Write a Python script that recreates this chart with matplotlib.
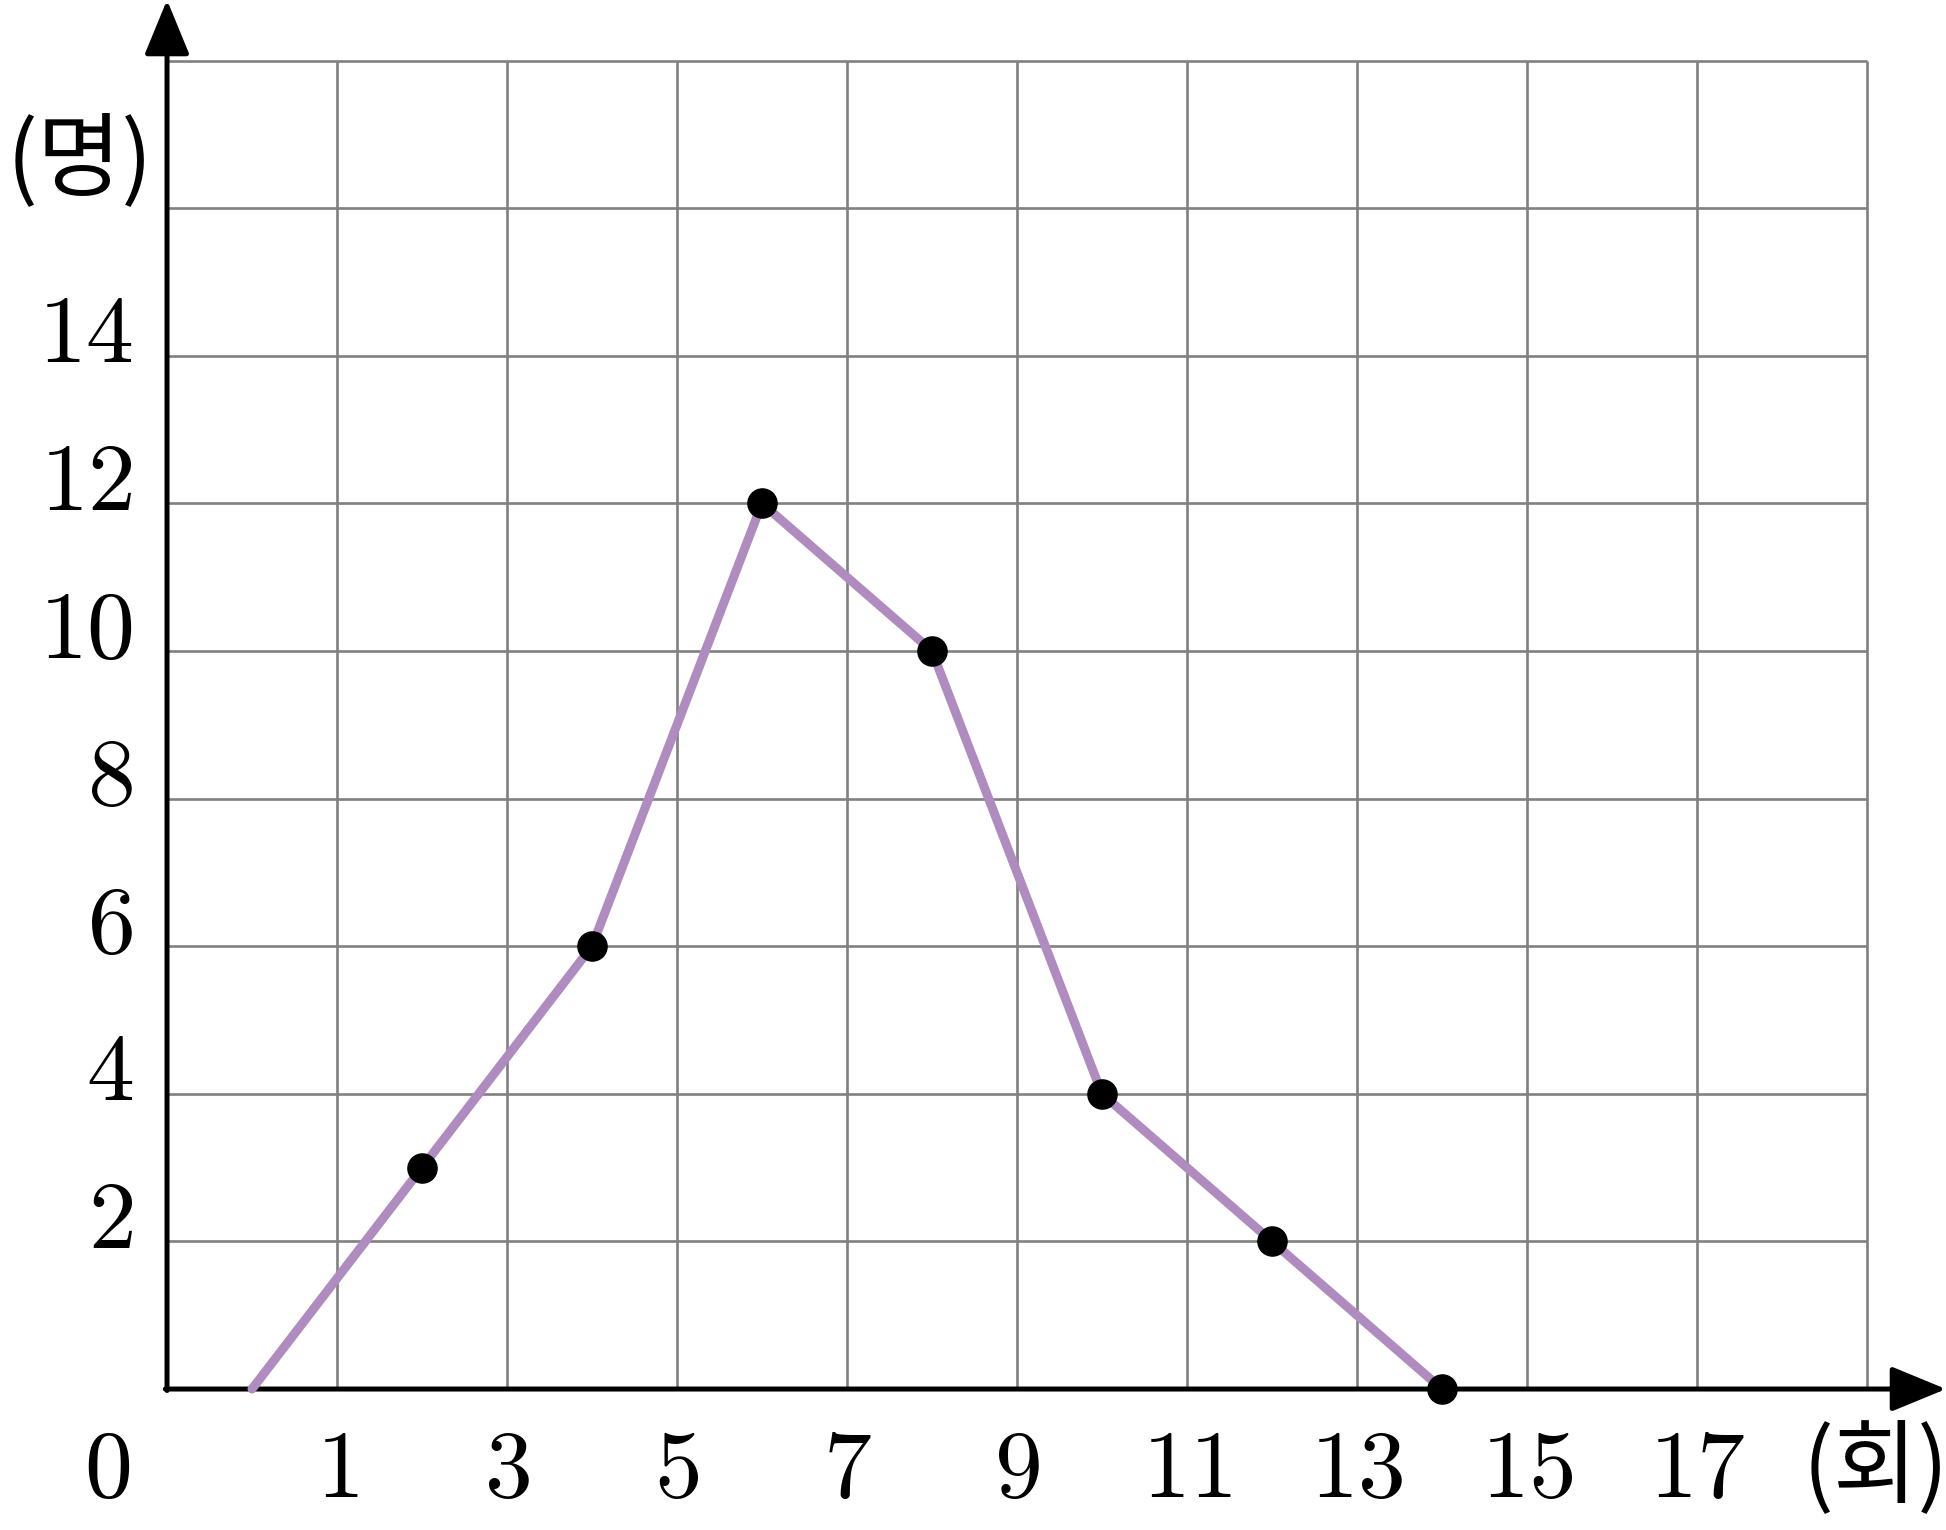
import matplotlib.pyplot as plt

plt.rcParams['mathtext.fontset'] = 'cm'

# 계급값(회)과 도수(명)
midpoints = [0, 2, 4, 6, 8, 10, 12, 14]
counts = [0, 3, 6, 12, 10, 4, 2, 0]

x_ticks = [1, 3, 5, 7, 9, 11, 13, 15, 17]
y_ticks = [2, 4, 6, 8, 10, 12, 14]
x_grid = [1, 3, 5, 7, 9, 11, 13, 15, 17, 19]
y_grid = [2, 4, 6, 8, 10, 12, 14, 16, 18]

fig = plt.figure(figsize=(19.46, 15.30), dpi=100)
ax = fig.add_axes([0, 0, 1, 1])
ax.set_xlim(-2.965, 19.93)
ax.set_ylim(-1.91, 18.82)
ax.axis('off')

grid_col = '#808080'
ax.vlines(x_grid, 0, 18, color=grid_col, lw=1.9, zorder=1)
ax.hlines(y_grid, -1, 19, color=grid_col, lw=1.9, zorder=1)

# 축 (화살표)
arrow = dict(arrowstyle='-|>,head_length=3.4,head_width=1.4',
             mutation_scale=10, lw=3.6, color='black', shrinkA=0, shrinkB=0)
ax.annotate('', xy=(19.93, 0), xytext=(-1.02, 0), arrowprops=arrow, zorder=3)
ax.annotate('', xy=(-1, 18.82), xytext=(-1, -0.02), arrowprops=arrow, zorder=3)

# 도수분포다각형
ax.plot(midpoints, counts, color='#B08BC0', lw=6.5, solid_capstyle='round',
        solid_joinstyle='round', zorder=4)
ax.plot(midpoints[1:], counts[1:], 'o', color='black', ms=21, zorder=5)

num_size = 69
for t in x_ticks:
    ax.text(t, -1.1, '$%d$' % t, fontsize=num_size, ha='center', va='center')
for t in y_ticks:
    ax.text(-1.4, t + 0.27, '$%d$' % t, fontsize=num_size, ha='right', va='center')
ax.text(-1.7, -1.1, '$0$', fontsize=num_size, ha='center', va='center')

kr = ['Noto Sans CJK KR', 'DejaVu Sans']
ax.text(-2.03, 16.62, '(명)', fontsize=66, ha='center', va='center', family=kr)
ax.text(19.1, -1.1, '(회)', fontsize=66, ha='center', va='center', family=kr)

fig.savefig('out.png', dpi=100)
